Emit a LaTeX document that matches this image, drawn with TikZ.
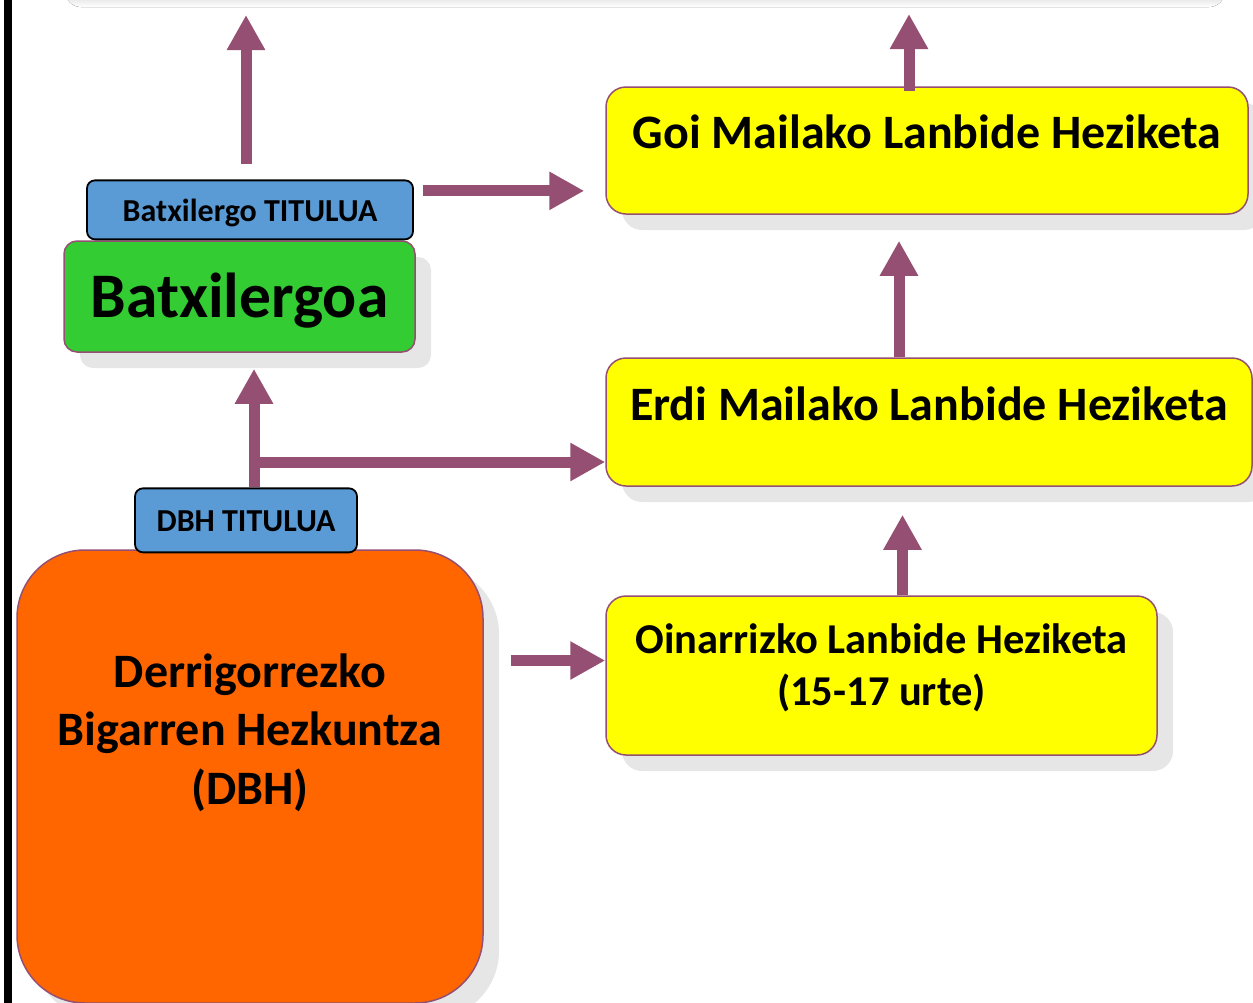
\documentclass[tikz,border=0pt]{standalone}
\usepackage{fontspec}
\setmainfont{Carlito}
\usetikzlibrary{arrows.meta,positioning,shadows}
\definecolor{plum}{HTML}{954F72}
\definecolor{tagblue}{HTML}{5B9BD5}
\definecolor{batxgreen}{HTML}{33CC33}
\definecolor{dbhorange}{HTML}{FF6600}
\definecolor{lhyellow}{HTML}{FFFF00}
\definecolor{shade}{HTML}{E6E6E6}
\tikzset{every picture/.style={
  >={Triangle[length=35pt,width=36pt]}   % wide flat heads.
  }
}

\begin{document}
\begin{tikzpicture}[x=1pt,y=-1pt,
        stage/.style={
          rectangle,
          rounded corners=20pt,
          draw=plum,
          line width=1.5pt,
          fill=lhyellow,
          align=center,
          font=\bfseries\fontsize{48}{56}\selectfont,
          drop shadow={shadow xshift=16pt,shadow yshift=-16pt,fill=shade,opacity=1},
        },
        tag/.style={
          rectangle,
          rounded corners=8pt,
          draw=black,
          line width=1.8pt,
          fill=tagblue,
          font=\bfseries\fontsize{32}{36}\selectfont,
        },
        flow/.style={->,draw=plum,line width=11pt},
      ]
      \useasboundingbox (0,0) rectangle (1253,1002);
      % edge of the box above, and the frame line
      \fill[shade,rounded corners=16pt] (65,-40) rectangle (1225,7);
      \draw[line width=8pt] (8,-10) -- (8,1012);

      \node[stage,minimum width=642pt,minimum height=127pt,text height=34pt,text depth=39pt]
        (goi) at (927,150.5) {Goi Mailako Lanbide Heziketa};
      \node[stage,minimum width=646pt,minimum height=128pt,text height=34pt,text depth=38pt]
        (erdi) at (929,422) {Erdi Mailako Lanbide Heziketa};
      \node[stage,minimum width=551pt,minimum height=159pt,text height=82pt,text depth=23pt,
        font=\bfseries\fontsize{42.5}{52}\selectfont]
        (oin) at (881.5,675.5) {Oinarrizko Lanbide Heziketa\\(15-17 urte)};
      \node[stage,fill=batxgreen,rounded corners=13pt,minimum width=351pt,minimum height=111pt,
        text height=45pt,text depth=4pt,font=\bfseries\fontsize{63.5}{70}\selectfont]
        (batx) at (239.5,296.5) {Batxilergoa};
      \node[tag,minimum width=326pt,minimum height=59pt,text height=25pt,text depth=2pt,
        above=0pt of batx,xshift=10.5pt] (titb) {Batxilergo TITULUA};
      \node[stage,fill=dbhorange,rounded corners=68pt,minimum width=466pt,minimum height=453pt,
        text height=153pt,text depth=98pt,font=\bfseries\fontsize{48}{58.5}\selectfont]
        (dbh) at (250,776.5) {Derrigorrezko\\Bigarren Hezkuntza\\(DBH)};
      \node[tag,minimum width=222pt,minimum height=64pt,text height=24pt,text depth=2pt,
        above=-4pt of dbh,xshift=-4pt] (dbht) {DBH TITULUA};

      \coordinate (exitL) at (246,15);
      \coordinate (exitR) at (909,14);
      \draw[flow,shorten <=15pt] (titb.north -| exitL) -- (exitL);
      \draw[flow,shorten <=-5pt] (goi.north -| exitR) -- (exitR);

      \coordinate (t2) at ([yshift=19pt]titb.east);
      \draw[flow,shorten <=9pt,shorten >=21pt] (t2) -- (t2 -| goi.west);

      \coordinate (e4) at ([xshift=-30pt]erdi.north);
      \draw[flow,shorten >=26pt] (e4) -- (e4 |- goi.south);

      \coordinate (stem) at ([xshift=8pt]dbht.north);
      \coordinate (fork) at ([yshift=-40pt]erdi.west);
      \draw[flow,shorten >=16pt] (stem) -- (stem |- batx.south);
      \draw[flow] (stem |- fork) -- (fork);

      \coordinate (o6) at ([xshift=21pt]oin.north);
      \draw[flow,shorten >=28pt] (o6) -- (o6 |- erdi.south);

      \coordinate (o7) at ([yshift=15pt]oin.west);
      \draw[flow,shorten <=27pt] (o7 -| dbh.east) -- (o7);
\end{tikzpicture}
\end{document}
